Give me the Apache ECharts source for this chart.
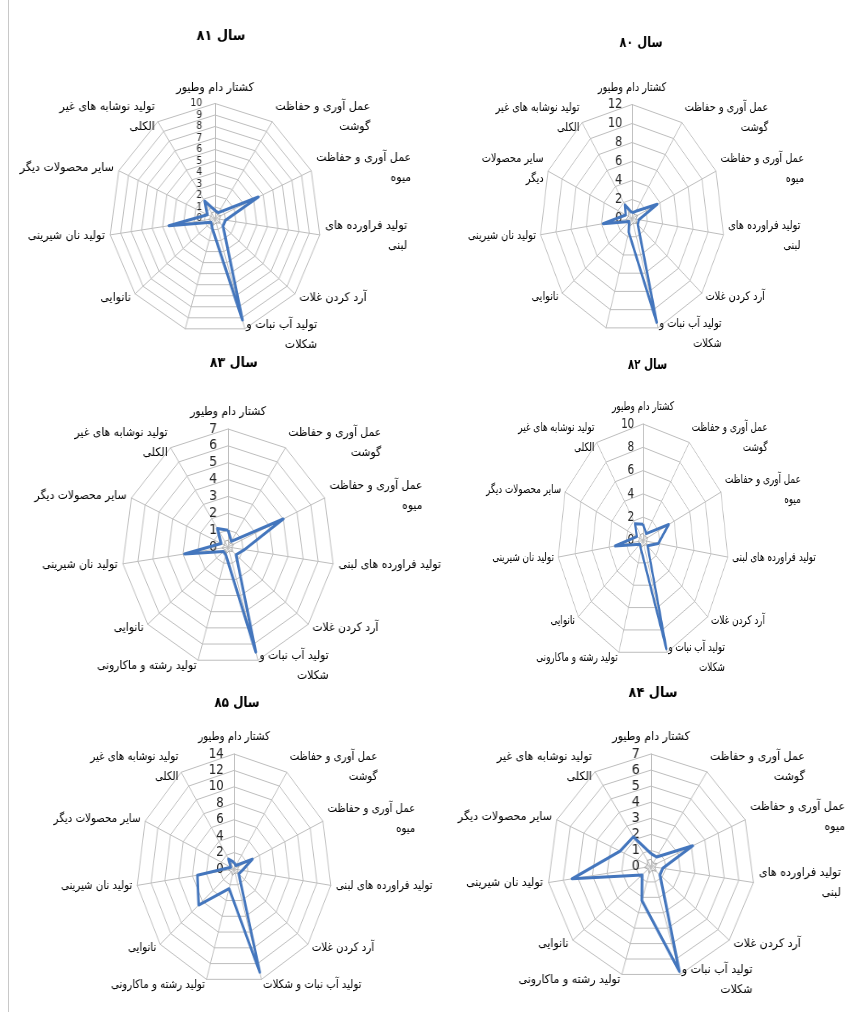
<!DOCTYPE html>
<html>
<head>
<meta charset="utf-8">
<script src="https://cdn.jsdelivr.net/npm/echarts@6/dist/echarts.min.js"></script>
<style>
html,body{margin:0;padding:0;background:#fff;overflow:hidden;width:860px;height:1023px;}
.c{position:absolute;top:0;width:1000px;height:1023px;}
#border{position:absolute;left:8px;top:0;width:1px;height:1012px;background:#c8c8c8;}
</style>
</head>
<body>
<div id="border"></div>
<div id="c80" class="c"></div>
<div id="c81" class="c"></div>
<div id="c82" class="c"></div>
<div id="c83" class="c"></div>
<div id="c84" class="c"></div>
<div id="c85" class="c"></div>
<script>
// ---------- DATA ----------
const categories = ['کشتار دام وطیور', 'عمل آوری و حفاظت گوشت', 'عمل آوری و حفاظت میوه', 'تولید فراورده های لبنی', 'آرد کردن غلات', 'تولید آب نبات و شکلات', 'تولید رشته و ماکارونی', 'نانوایی', 'تولید نان شیرینی', 'سایر محصولات دیگر', 'تولید نوشابه های غیر الکلی'];

const labels80 = ['کشتار دام وطیور', 'عمل آوری و حفاظت\nگوشت', 'عمل آوری و حفاظت\nمیوه', 'تولید فراورده های\nلبنی', 'آرد کردن غلات', 'تولید آب نبات و\nشکلات', '', 'نانوایی', 'تولید نان شیرینی', 'سایر محصولات\nدیگر', 'تولید نوشابه های غیر\nالکلی'];
const labels81 = ['کشتار دام وطیور', 'عمل آوری و حفاظت\nگوشت', 'عمل آوری و حفاظت\nمیوه', 'تولید فراورده های\nلبنی', 'آرد کردن غلات', 'تولید آب نبات و\nشکلات', '', 'نانوایی', 'تولید نان شیرینی', 'سایر محصولات دیگر', 'تولید نوشابه های غیر\nالکلی'];
const labels82 = ['کشتار دام وطیور', 'عمل آوری و حفاظت\nگوشت', 'عمل آوری و حفاظت\nمیوه', 'تولید فراورده های لبنی', 'آرد کردن غلات', 'تولید آب نبات و\nشکلات', 'تولید رشته و ماکارونی', 'نانوایی', 'تولید نان شیرینی', 'سایر محصولات دیگر', 'تولید نوشابه های غیر\nالکلی'];
const labels83 = ['کشتار دام وطیور', 'عمل آوری و حفاظت\nگوشت', 'عمل آوری و حفاظت\nمیوه', 'تولید فراورده های لبنی', 'آرد کردن غلات', 'تولید آب نبات و\nشکلات', 'تولید رشته و ماکارونی', 'نانوایی', 'تولید نان شیرینی', 'سایر محصولات دیگر', 'تولید نوشابه های غیر\nالکلی'];
const labels84 = ['کشتار دام وطیور', 'عمل آوری و حفاظت\nگوشت', 'عمل آوری و حفاظت\nمیوه', 'تولید فراورده های\nلبنی', 'آرد کردن غلات', 'تولید آب نبات و\nشکلات', 'تولید رشته و ماکارونی', 'نانوایی', 'تولید نان شیرینی', 'سایر محصولات دیگر', 'تولید نوشابه های غیر\nالکلی'];
const labels85 = ['کشتار دام وطیور', 'عمل آوری و حفاظت\nگوشت', 'عمل آوری و حفاظت\nمیوه', 'تولید فراورده های لبنی', 'آرد کردن غلات', 'تولید آب نبات و شکلات', 'تولید رشته و ماکارونی', 'نانوایی', 'تولید نان شیرینی', 'سایر محصولات دیگر', 'تولید نوشابه های غیر\nالکلی'];

const titles = ['سال ۸۰', 'سال ۸۱', 'سال ۸۲', 'سال ۸۳', 'سال ۸۴', 'سال ۸۵'];

const ticks80 = [0, 2, 4, 6, 8, 10, 12];
const ticks81 = [0, 1, 2, 3, 4, 5, 6, 7, 8, 9, 10];
const ticks82 = [0, 2, 4, 6, 8, 10];
const ticks83 = [0, 1, 2, 3, 4, 5, 6, 7];
const ticks84 = [0, 1, 2, 3, 4, 5, 6, 7];
const ticks85 = [0, 2, 4, 6, 8, 10, 12, 14];

const values80 = [0.6, 0.9, 3.6, 0.9, 1.0, 11.4, 1.5, 0.5, 3.8, 0.9, 1.7];
const values81 = [0.7, 0.6, 4.5, 1.0, 1.0, 9.2, 0.9, 0.5, 4.4, 0.8, 1.8];
const values82 = [1.4, 0.7, 3.3, 1.8, 0.7, 9.7, 0.8, 0.5, 3.3, 0.8, 1.7];
const values83 = [1.0, 0.4, 4.0, 1.1, 0.7, 6.5, 0.5, 0.4, 2.9, 0.5, 1.3];
const values84 = [0.8, 0.7, 3.1, 0.8, 0.8, 6.8, 2.2, 0.8, 5.4, 2.3, 2.2];
const values85 = [0.8, 0.5, 2.9, 1.2, 0.9, 13.1, 2.5, 6.7, 5.3, 0.5, 1.45];

const inner80 = [0.8, 0.5, 0.8, 0.5, 0.8, 0.5, 0.8, 0.5, 0.8, 0.5, 0.8];
const inner81 = [0.6, 0.4, 0.6, 0.4, 0.6, 0.4, 0.6, 0.4, 0.6, 0.4, 0.6];
const inner82 = [0.6, 0.4, 0.6, 0.4, 0.6, 0.4, 0.6, 0.4, 0.6, 0.4, 0.6];
const inner83 = [0.4, 0.25, 0.4, 0.25, 0.4, 0.25, 0.4, 0.25, 0.4, 0.25, 0.4];
const inner84 = [0.45, 0.25, 0.45, 0.25, 0.45, 0.25, 0.45, 0.25, 0.45, 0.25, 0.45];
const inner85 = [0.8, 0.5, 0.8, 0.5, 0.8, 0.5, 0.8, 0.5, 0.8, 0.5, 0.8];

// ---------- RENDER ----------
const FONT = 'DejaVu Sans';
const BLUE = '#4476bd';
const GRID = '#bdbdbd';
const HALF = 500;

// ECharts lays indicators counter-clockwise; the reference runs clockwise.
function cw(arr) { return [arr[0]].concat(arr.slice(1).reverse()); }

function build(id, spec) {
  const el = document.getElementById(id);
  el.style.left = (spec.cx - HALF) + 'px';
  el.style.transform = 'scaleX(' + spec.k + ')';
  el.style.transformOrigin = HALF + 'px 0px';
  const chart = echarts.init(el, null, {renderer: 'canvas'});
  const max = spec.ticks[spec.ticks.length - 1];
  const n = spec.ticks.length - 1;
  const ind = cw(categories.map(function (c, i) {
    return {name: spec.labels[i], max: max, min: 0};
  }));
  ind[0].axisLabel = {
    show: true, color: '#262626', fontSize: spec.tickFont || 14, fontFamily: FONT,
    margin: spec.tickMargin || 12, showMinLabel: true, showMaxLabel: true
  };
  chart.setOption({
    animation: false,
    graphic: [{
      type: 'text',
      x: HALF + (spec.tx - spec.cx) / spec.k,
      y: spec.ty,
      style: {text: spec.title, font: 'bold 14px "' + FONT + '"', fill: '#000', align: 'center', verticalAlign: 'middle'}
    }],
    radar: {
      center: [HALF, spec.cy],
      radius: spec.ry,
      startAngle: 90,
      splitNumber: n,
      shape: 'polygon',
      indicator: ind,
      nameGap: spec.nameGap || 6,
      axisName: {
        color: '#000', fontSize: 12, fontFamily: FONT, lineHeight: 20,
        formatter: function (v) {
          if (!v) return '';
          return v.split('\n').map(function (l) { return '{r|' + l + '}'; }).join('\n');
        },
        rich: {r: {align: 'right', color: '#000', fontSize: 12, fontFamily: FONT, lineHeight: 20}}
      },
      splitLine: {lineStyle: {color: GRID, width: 1}},
      splitArea: {show: false},
      axisLine: {lineStyle: {color: GRID, width: 1}},
      axisTick: {show: false},
      axisLabel: {show: false}
    },
    series: [{
      type: 'radar',
      symbol: 'none',
      silent: true,
      data: [
        {value: cw(spec.inner), lineStyle: {color: '#a6a6a6', width: 1}},
        {value: cw(spec.values), lineStyle: {color: BLUE, width: 3}}
      ]
    }]
  });
}

build('c80', {cx: 632, cy: 218.5, ry: 114, k: 0.81, tx: 641, ty: 43, title: titles[0], labels: labels80, ticks: ticks80, values: values80, inner: inner80});
build('c81', {cx: 215, cy: 218.5, ry: 115, k: 0.92, tx: 221, ty: 36, title: titles[1], labels: labels81, ticks: ticks81, values: values81, inner: inner81, tickFont: 10, tickMargin: 14});
build('c82', {cx: 642.5, cy: 540.5, ry: 116.5, k: 0.735, tx: 647, ty: 365, title: titles[2], labels: labels82, ticks: ticks82, values: values82, inner: inner82});
build('c83', {cx: 228.3, cy: 547, ry: 118, k: 0.9, tx: 234, ty: 363, title: titles[3], labels: labels83, ticks: ticks83, values: values83, inner: inner83});
build('c84', {cx: 651, cy: 866.5, ry: 112.5, k: 0.92, tx: 653, ty: 693, title: titles[4], labels: labels84, ticks: ticks84, values: values84, inner: inner84});
build('c85', {cx: 234, cy: 869, ry: 115, k: 0.85, tx: 237, ty: 703, title: titles[5], labels: labels85, ticks: ticks85, values: values85, inner: inner85});
</script>
</body>
</html>
